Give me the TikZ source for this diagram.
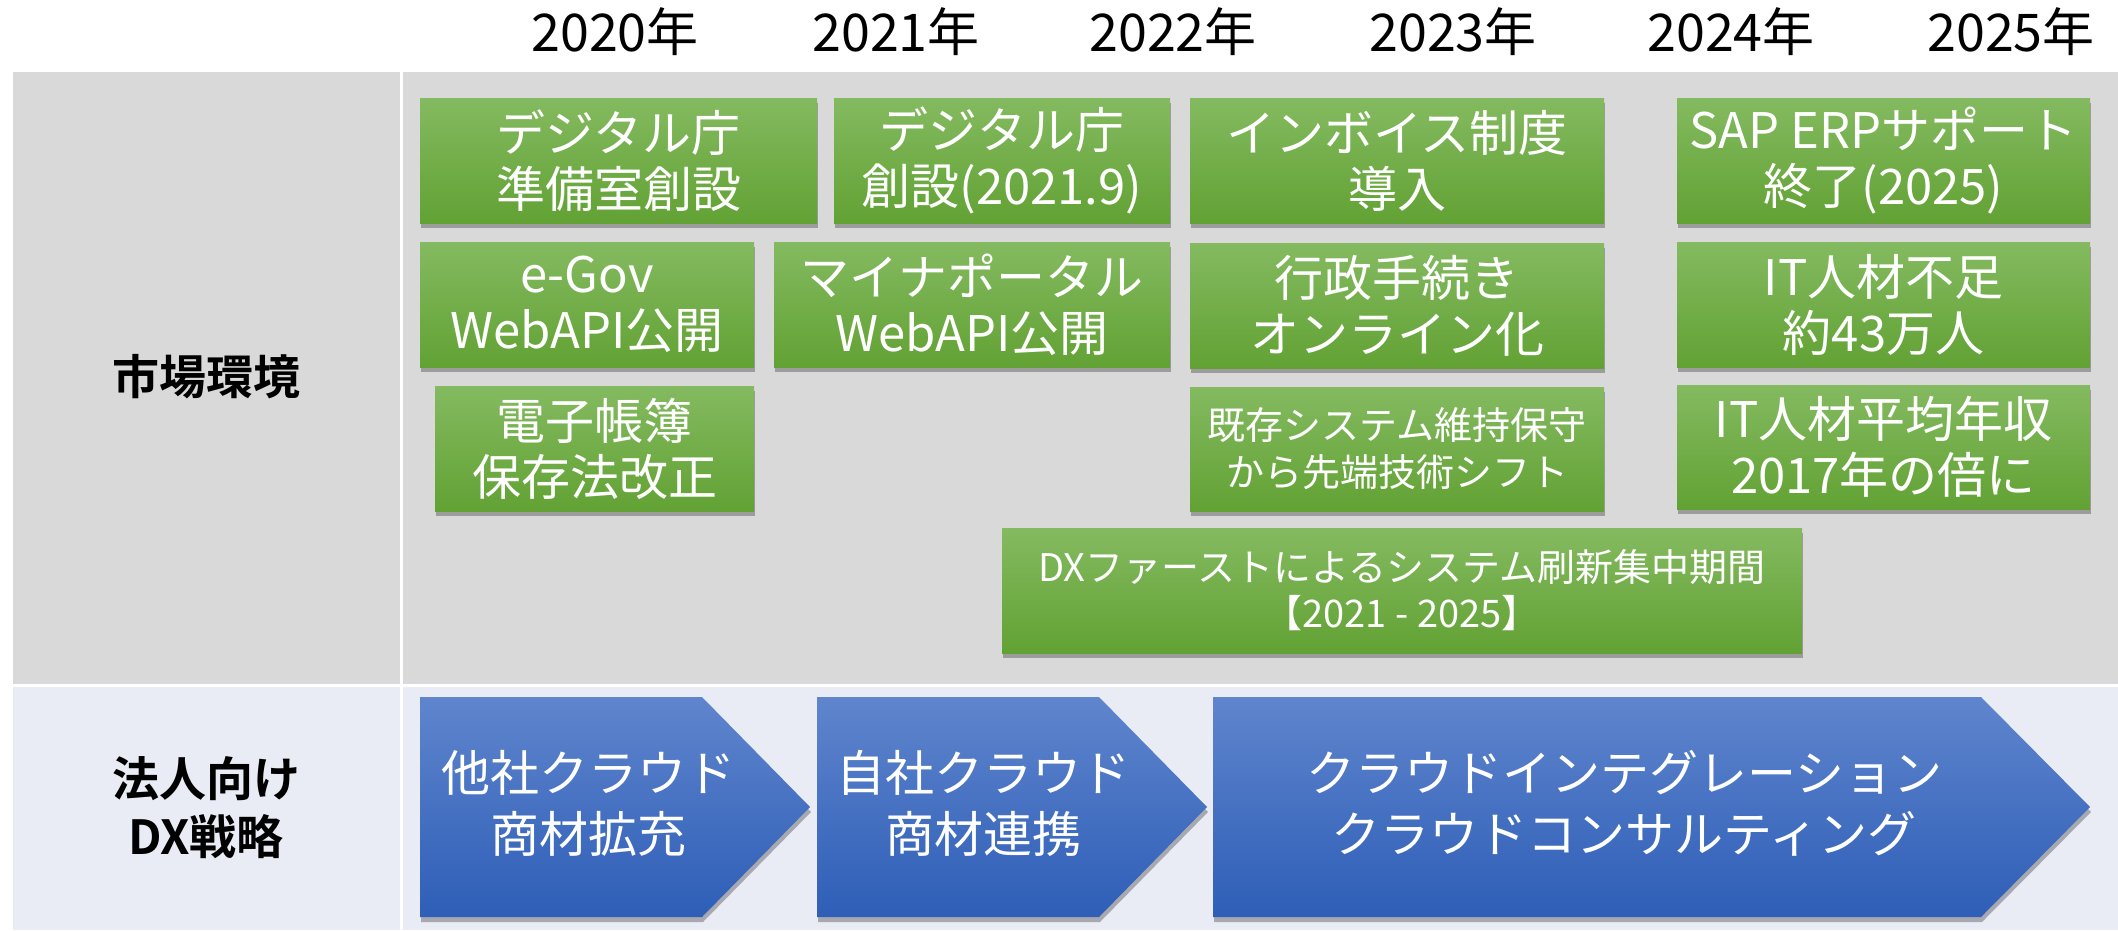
\documentclass[tikz,border=0pt]{standalone}
\usepackage{fontspec}
\setmainfont{Noto Sans CJK JP}[BoldFont={Noto Sans CJK JP Bold}]
\usetikzlibrary{shadows}
\definecolor{gtop}{RGB}{132,186,96}
\definecolor{gbot}{RGB}{98,162,52}
\definecolor{btop}{RGB}{95,133,205}
\definecolor{bbot}{RGB}{46,94,183}
\definecolor{graybg}{RGB}{217,217,217}
\definecolor{bluebg}{RGB}{233,235,245}
\tikzset{
  shd/.style={drop shadow={shadow xshift=1pt, shadow yshift=-5pt, opacity=0.28, fill=black}},
  gbox/.style={rectangle, top color=gtop, bottom color=gbot, text=white, align=center,
    inner sep=0pt, font=\fontsize{49}{56}\selectfont, shd},
  gsmall/.style={font=\fontsize{38}{47}\selectfont},
  gdx/.style={font=\fontsize{38}{46}\selectfont},
  arrowshape/.style={top color=btop, bottom color=bbot, shd},
  atext/.style={text=white, align=center, inner sep=0pt, font=\fontsize{49}{61}\selectfont},
  lbl/.style={text=black, align=center, inner sep=0pt, font=\fontsize{47}{58}\selectfont\bfseries},
  yr/.style={text=black, inner sep=0pt, font=\fontsize{52}{60}\selectfont},
}
\begin{document}
\begin{tikzpicture}[x=1pt,y=-1pt]
\useasboundingbox (0,0) rectangle (2118,930);
\fill[white] (0,0) rectangle (2118,930);
% backgrounds
\fill[graybg] (13,72) rectangle (2118,684);
\fill[bluebg] (13,687) rectangle (2118,930);
\fill[white] (399.5,72) rectangle (402.5,930);
% years
\node[yr] (y20) at (615,32) {2020年};
\node[yr] (y21) at (896,32) {2021年};
\node[yr] (y22) at (1173,32) {2022年};
\node[yr] (y23) at (1453,32) {2023年};
\node[yr] (y24) at (1731,32) {2024年};
\node[yr] (y25) at (2011,32) {2025年};
% row labels
\node[lbl] (m) at (206,377) {市場環境};
\node[lbl] (h) at (206,808) {法人向け\\DX戦略};
% green boxes
\node[gbox, minimum width=397pt, minimum height=125pt] (b1) at (618.5,160.5) {デジタル庁\\準備室創設};
\node[gbox, minimum width=336pt, minimum height=125pt] (b2) at (1002,160.5) {デジタル庁\\創設(2021.9)};
\node[gbox, minimum width=414pt, minimum height=125pt] (b3) at (1397,160.5) {インボイス制度\\導入};
\node[gbox, minimum width=413pt, minimum height=125pt] (b4) at (1883.5,160.5) {SAP ERPサポート\\終了(2025)};
\node[gbox, minimum width=334pt, minimum height=125pt] (b5) at (587,304.5) {e-Gov\\WebAPI公開};
\node[gbox, minimum width=396pt, minimum height=125pt] (b6) at (972,304.5) {マイナポータル\\WebAPI公開};
\node[gbox, minimum width=414pt, minimum height=125pt] (b7) at (1397,305.5) {行政手続き\\オンライン化};
\node[gbox, minimum width=413pt, minimum height=125pt] (b8) at (1883.5,304.5) {IT人材不足\\約43万人};
\node[gbox, minimum width=319pt, minimum height=125pt] (b9) at (594.5,448.5) {電子帳簿\\保存法改正};
\node[gbox, gsmall, minimum width=414pt, minimum height=124pt] (b10) at (1397,449) {既存システム維持保守\\から先端技術シフト};
\node[gbox, minimum width=413pt, minimum height=124pt] (b11) at (1883.5,447) {IT人材平均年収\\2017年の倍に};
\node[gbox, gdx, minimum width=800pt, minimum height=125pt] (b12) at (1402,590.5) {DXファーストによるシステム刷新集中期間\\【2021 - 2025】};
% blue arrows
\path[arrowshape] (420,697) -- (702,697) -- (810,807) -- (702,917) -- (420,917) -- cycle;
\path[arrowshape] (817,697) -- (1099,697) -- (1207,807) -- (1099,917) -- (817,917) -- cycle;
\path[arrowshape] (1213,697) -- (1981,697) -- (2090,807) -- (1981,917) -- (1213,917) -- cycle;
\node[atext] (a1) at (588,803) {他社クラウド\\商材拡充};
\node[atext] (a2) at (983,803) {自社クラウド\\商材連携};
\node[atext] (a3) at (1624,803) {クラウドインテグレーション\\クラウドコンサルティング};
\end{tikzpicture}
\end{document}
